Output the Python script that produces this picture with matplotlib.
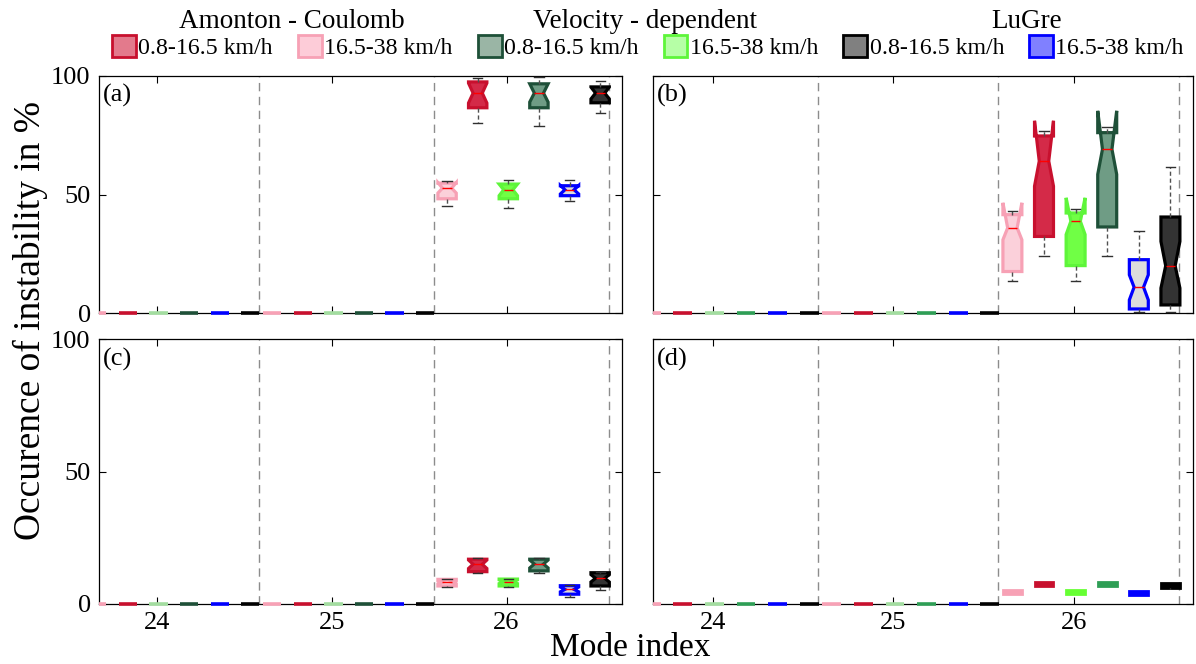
import matplotlib
matplotlib.use("Agg")
import matplotlib.pyplot as plt
from matplotlib.patches import Patch, Rectangle

plt.rcParams["font.family"] = ["Liberation Serif", "DejaVu Serif"]

# mode indices on the x axis
modes = [24, 25, 26]

# box order inside each mode group
series = ["AC 16.5-38", "AC 0.8-16.5", "VD 16.5-38", "VD 0.8-16.5",
          "LuGre 16.5-38", "LuGre 0.8-16.5"]

# modes 24 and 25 never go unstable
low_mode_values = [0, 0, 0, 0, 0, 0]

# mode 26 box statistics, one list per panel quantity
a_whislo = [45.0, 80.2, 44.5, 79.1, 47.1, 84.4]
a_q1 = [48.2, 86.6, 48.2, 86.6, 49.5, 88.7]
a_med = [52.7, 92.8, 52.0, 92.8, 52.0, 92.8]
a_q3 = [54.8, 97.5, 54.4, 96.7, 53.7, 95.4]
a_whishi = [55.5, 99.2, 56.2, 99.6, 56.2, 97.8]
a_cilo = [50.6, 88.6, 49.5, 89.0, 50.2, 90.3]
a_cihi = [55.0, 97.0, 54.4, 96.7, 53.8, 95.3]

b_whislo = [13.3, 23.9, 13.3, 23.9, 0.6, 0.6]
b_q1 = [17.5, 32.3, 20.0, 36.3, 1.7, 3.4]
b_med = [35.9, 64.1, 38.7, 69.1, 10.9, 19.9]
b_q3 = [41.5, 74.7, 42.2, 76.1, 22.5, 40.5]
b_whishi = [43.2, 76.8, 43.9, 78.3, 34.4, 61.6]
b_cilo = [30.9, 53.5, 33.1, 58.5, 5.5, 10.5]
b_cihi = [46.5, 81.1, 48.6, 85.3, 16.1, 30.2]

c_whislo = [6.5, 11.6, 6.5, 11.6, 2.8, 5.3]
c_q1 = [6.8, 12.2, 6.8, 12.5, 3.7, 6.8]
c_med = [8.2, 15.0, 8.4, 15.1, 5.5, 9.7]
c_q3 = [9.3, 16.9, 9.4, 16.9, 6.9, 11.8]
c_whishi = [9.5, 17.3, 9.6, 17.3, 7.1, 12.2]
c_cilo = [7.6, 13.4, 7.7, 13.6, 4.6, 8.3]
c_cihi = [8.8, 16.6, 9.1, 16.6, 6.4, 11.1]

d_whislo = [3.8, 6.9, 3.8, 6.9, 3.4, 5.5]
d_q1 = [3.8, 6.9, 3.8, 6.9, 3.4, 5.9]
d_med = [4.5, 7.6, 4.5, 7.6, 4.1, 6.8]
d_q3 = [5.3, 8.3, 5.3, 8.3, 4.9, 7.8]
d_whishi = [5.3, 8.3, 5.3, 8.3, 4.9, 8.0]

# colours (box order)
box_faces = ["#fbd0da", "#d42a48", "#70ff45", "#6f9c85", "#dcdcdc", "#333333"]
box_edges = ["#f7a1b5", "#c8102e", "#5ef53a", "#1e5038", "#0000ff", "#000000"]
flat_left = ["#f7a1b5", "#c8102e", "#a3dda0", "#1e5038", "#0000ff", "#000000"]
flat_right = ["#f7a1b5", "#c8102e", "#a3dda0", "#2e9e55", "#0000ff", "#000000"]
flat_d26 = ["#f7a1b5", "#c8102e", "#66ff33", "#2e9e55", "#0000ff", "#000000"]

# legend (legend order)
legend_labels = ["0.8-16.5 km/h", "16.5-38 km/h"] * 3
legend_faces = ["#e37a8c", "#fdccd8", "#9ab5a5", "#b6ffa6", "#808080", "#8080ff"]
legend_edges = ["#c8102e", "#f7a1b5", "#1e5038", "#5ef53a", "#000000", "#0000ff"]
group_titles = ["Amonton - Coulomb", "Velocity - dependent", "LuGre"]

offsets = [-0.34, -0.165, 0.01, 0.185, 0.36, 0.535]
box_w = 0.105


def clip_loose(ax, artists):
    # let flat boxes sit across the x axis like in the original
    clip = Rectangle((0, -0.03), 1, 1.06, transform=ax.transAxes)
    for a in artists:
        a.set_clip_path(clip)


def draw_box(ax, pos, st, face, edge, notch, lw=2.3, caps=True, med=True):
    art = ax.bxp([st], positions=[pos], widths=box_w, shownotches=notch,
                 patch_artist=True, showfliers=False, showcaps=caps,
                 manage_ticks=False,
                 boxprops=dict(facecolor=face, edgecolor=edge, linewidth=lw),
                 medianprops=dict(color="#ff0000", linewidth=1.0 if med else 0),
                 whiskerprops=dict(color="#505050", linewidth=1.0, linestyle=(0, (3, 2))),
                 capprops=dict(color="#303030", linewidth=1.0))
    allart = art["boxes"] + art["medians"] + art["whiskers"] + art["caps"]
    for a in allart:
        a.set_zorder(3)
    clip_loose(ax, allart)


def flat_box(ax, pos, v, color):
    st = dict(whislo=v, q1=v, med=v, q3=v, whishi=v)
    draw_box(ax, pos, st, color, color, False, lw=2.6, caps=False, med=False)


fig = plt.figure(figsize=(11.96, 6.64), dpi=100)
W, H = 1196, 664
rects = {
    "a": [99 / W, 1 - 313 / H, 523 / W, 237 / H],
    "b": [653 / W, 1 - 313 / H, 540 / W, 237 / H],
    "c": [99 / W, 1 - 604 / H, 523 / W, 265 / H],
    "d": [653 / W, 1 - 604 / H, 540 / W, 265 / H],
}
panel_stats = {
    "a": (a_whislo, a_q1, a_med, a_q3, a_whishi, a_cilo, a_cihi),
    "b": (b_whislo, b_q1, b_med, b_q3, b_whishi, b_cilo, b_cihi),
    "c": (c_whislo, c_q1, c_med, c_q3, c_whishi, c_cilo, c_cihi),
    "d": (d_whislo, d_q1, d_med, d_q3, d_whishi, None, None),
}

for key in "abcd":
    ax = fig.add_axes(rects[key])
    right = key in "bd"
    flats = flat_right if right else flat_left
    for m in modes:
        ax.axvline(m + 0.583, color="#8c8c8c", linestyle=(0, (6, 4)), linewidth=1.0, zorder=1)
    for m in modes[:2]:
        for k in range(6):
            flat_box(ax, m + offsets[k], low_mode_values[k], flats[k])
    wl, q1, md, q3, wh, cl, ch = panel_stats[key]
    for k in range(6):
        pos = modes[2] + offsets[k]
        if key == "d":
            st = dict(whislo=wl[k], q1=q1[k], med=md[k], q3=q3[k], whishi=wh[k])
            draw_box(ax, pos, st, flat_d26[k], flat_d26[k], False, lw=2.0, caps=False, med=False)
        else:
            st = dict(whislo=wl[k], q1=q1[k], med=md[k], q3=q3[k], whishi=wh[k],
                      cilo=cl[k], cihi=ch[k])
            draw_box(ax, pos, st, box_faces[k], box_edges[k], True)

    ax.set_xlim(23.67, 26.66)
    ax.set_ylim(0, 100)
    ax.set_xticks(modes)
    ax.set_yticks([0, 50, 100])
    ax.tick_params(direction="in", top=True, right=True, length=5, width=0.8,
                   labelsize=19, pad=6)
    if key in "ab":
        ax.tick_params(labelbottom=False)
    if right:
        ax.tick_params(labelleft=False)
    for sp in ax.spines.values():
        sp.set_linewidth(0.9)
    ax.text(0.008, 0.965, f"({key})", transform=ax.transAxes, ha="left", va="top",
            fontsize=19)

fig.text(30 / W, 1 - 320 / H, "Occurence of instability in %", rotation=90,
         ha="center", va="center", fontsize=27)
fig.text(630 / W, 1 - 648 / H, "Mode index", ha="center", va="center", fontsize=24)

handles = [Patch(facecolor=f, edgecolor=e, linewidth=2.0)
           for f, e in zip(legend_faces, legend_edges)]
fig.legend(handles, legend_labels, ncol=6, loc="center", bbox_to_anchor=(648 / W, 1 - 47 / H),
           frameon=False, fontsize=17.2, handlelength=1.0, handleheight=1.05,
           handletextpad=0.1, columnspacing=1.05, borderpad=0)

for title, x in zip(group_titles, [292, 645, 1027]):
    fig.text(x / W, 1 - 21 / H, title, ha="center", va="center", fontsize=19.5)

fig.savefig("out.png", dpi=100)
